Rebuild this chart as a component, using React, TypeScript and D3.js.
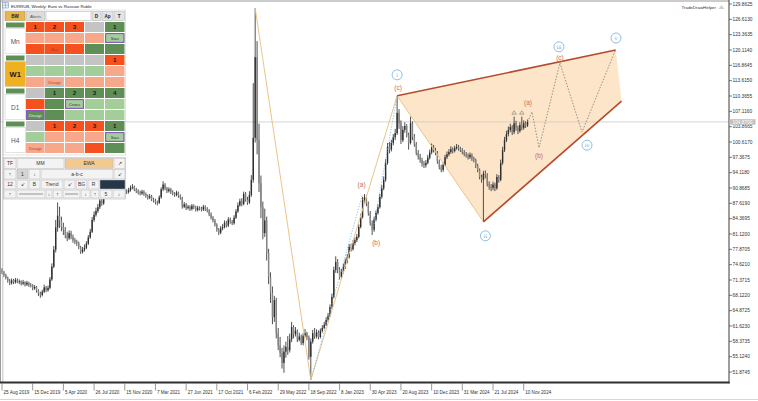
import React from "react";
import * as d3 from "d3";

const W = 758;
const H = 401;

// Weekly EURRUB candles (open of each bar = previous close)
const firstOpen = 73.4;
const closes = [
  73.0, 72.4, 71.8, 71.2, 70.7, 71.3, 70.9, 71.4, 71.0, 71.1,
  70.6, 70.9, 70.4, 70.8, 70.3, 70.2, 69.6, 69.9, 69.1, 68.5,
  68.2, 68.9, 69.8, 69.2, 69.7, 71.5, 74.2, 77.8, 82.5, 85.0,
  84.0, 82.6, 82.0, 80.9, 80.2, 81.3, 80.5, 79.8, 79.5, 79.2,
  78.3, 77.3, 77.8, 78.2, 79.1, 80.4, 81.6, 84.1, 85.2, 86.0,
  86.8, 88.2, 87.6, 88.9, 90.2, 91.4, 90.6, 89.8, 90.5, 91.0,
  91.2, 90.3, 89.9, 90.6, 90.1, 90.0, 90.4, 90.9, 91.1, 90.5,
  90.2, 89.9, 89.7, 90.1, 89.6, 89.2, 88.8, 89.1, 88.5, 88.2,
  87.8, 87.7, 88.9, 90.6, 91.6, 90.8, 90.2, 90.6, 90.0, 89.7,
  89.4, 89.9, 89.2, 88.8, 86.9, 87.4, 86.6, 86.9, 86.4, 87.1,
  86.8, 86.2, 86.7, 86.5, 86.3, 86.9, 86.4, 86.1, 85.3, 84.6,
  84.0, 83.1, 82.0, 81.4, 82.3, 82.6, 83.5, 82.9, 84.2, 83.7,
  83.4, 84.6, 85.9, 87.2, 88.1, 87.5, 89.6, 88.4, 87.8, 89.4,
  92.6, 101.5, 118.6, 101.0, 91.9, 86.8, 81.3, 84.0, 77.1, 72.0,
  68.6, 63.5, 67.1, 60.1, 57.5, 55.9, 53.8, 56.2, 57.2, 56.5,
  58.8, 61.4, 59.9, 60.6, 58.7, 59.4, 58.0, 59.6, 60.1, 59.2,
  55.1, 58.3, 60.1, 59.4, 60.3, 59.3, 60.6, 61.2, 61.9, 62.9,
  63.8, 65.6, 67.8, 73.5, 75.2, 73.6, 72.0, 73.1, 74.1, 75.3,
  76.2, 78.4, 77.9, 79.2, 79.8, 80.5, 82.6, 84.7, 88.3, 88.9,
  87.6, 85.6, 83.4, 82.0, 84.2, 85.6, 86.8, 89.0, 90.8, 92.6,
  96.2, 99.6, 99.0, 100.4, 101.6, 102.5, 106.8, 104.6, 101.0, 103.2,
  104.0, 102.1, 100.4, 104.6, 101.7, 100.2, 98.3, 97.5, 96.8, 96.0,
  95.7, 96.2, 97.3, 98.4, 99.6, 98.9, 98.3, 96.5, 95.3, 94.7,
  95.8, 97.4, 98.0, 98.5, 99.1, 98.7, 99.3, 99.6, 99.2, 98.9,
  98.5, 98.0, 97.8, 97.4, 97.9, 97.1, 96.8, 95.6, 94.7, 93.2,
  92.6, 93.9, 93.6, 91.8, 91.1, 90.9, 91.6, 90.8, 93.2, 92.6,
  96.2, 98.9, 101.0, 102.3, 103.2, 103.8, 102.7, 104.6, 103.6, 102.9,
  104.2, 103.6, 104.6, 104.1, 104.87,
];
const highs = [
  73.9, 73.3, 72.7, 72.1, 71.6, 71.7, 71.6, 71.8, 71.7, 71.5,
  71.3, 71.4, 71.1, 71.2, 71.0, 70.7, 70.5, 70.3, 70.1, 69.4,
  68.9, 69.3, 70.4, 70.1, 70.2, 72.0, 74.9, 78.6, 84.1, 87.8,
  86.9, 84.8, 83.5, 82.6, 81.6, 81.9, 81.8, 81.0, 80.3, 79.9,
  79.5, 78.6, 78.4, 78.9, 79.6, 80.9, 82.2, 84.7, 85.9, 86.7,
  87.5, 88.8, 88.9, 89.5, 90.9, 92.1, 91.8, 91.0, 91.0, 91.5,
  91.7, 91.5, 90.7, 91.1, 90.9, 90.6, 90.9, 91.4, 91.7, 91.4,
  90.9, 90.6, 90.3, 90.5, 90.4, 89.9, 89.5, 89.6, 89.4, 88.8,
  88.6, 88.2, 89.3, 91.0, 92.3, 91.9, 91.1, 91.0, 90.9, 90.4,
  90.0, 90.3, 90.1, 89.5, 89.0, 87.9, 87.7, 87.3, 87.2, 87.5,
  87.4, 87.1, 87.1, 87.0, 86.9, 87.3, 87.2, 86.8, 86.4, 85.7,
  84.9, 84.3, 83.4, 82.4, 82.8, 83.2, 84.0, 83.9, 84.7, 84.6,
  84.1, 85.1, 86.4, 87.8, 88.6, 88.7, 90.1, 90.0, 89.0, 90.2,
  93.6, 113.1, 129.0, 122.0, 104.5, 93.5, 88.0, 86.5, 84.8, 78.0,
  73.0, 70.0, 68.0, 67.6, 61.2, 59.3, 57.0, 57.5, 58.3, 59.5,
  60.0, 62.5, 61.8, 61.4, 60.9, 60.2, 59.8, 60.1, 61.0, 60.4,
  59.6, 59.0, 60.8, 61.2, 60.9, 60.7, 61.1, 61.8, 62.5, 63.5,
  64.4, 66.2, 68.5, 74.2, 76.4, 75.8, 74.1, 73.7, 74.8, 75.9,
  76.9, 79.0, 79.1, 79.8, 80.4, 81.1, 83.2, 85.4, 89.0, 89.6,
  89.3, 88.0, 86.0, 84.0, 84.8, 86.1, 87.4, 89.6, 91.5, 93.3,
  97.0, 100.4, 100.6, 101.1, 102.3, 103.4, 110.4, 107.6, 105.2, 104.0,
  104.8, 104.4, 102.6, 106.0, 105.0, 102.3, 100.6, 98.9, 98.1, 97.3,
  96.6, 96.8, 97.9, 99.0, 100.3, 100.0, 99.4, 98.7, 96.9, 95.8,
  96.3, 97.9, 98.6, 99.1, 99.7, 99.5, 99.8, 100.2, 100.0, 99.6,
  99.3, 98.9, 98.5, 98.2, 98.4, 98.2, 97.5, 97.1, 96.0, 95.0,
  93.7, 94.5, 94.6, 94.0, 92.3, 91.7, 92.2, 92.0, 93.8, 93.6,
  96.9, 99.6, 101.7, 103.0, 103.9, 104.5, 104.2, 106.0, 105.1, 104.1,
  104.8, 106.0, 105.2, 105.0, 105.4,
];
const lows = [
  72.6, 72.0, 71.5, 70.8, 70.3, 70.4, 70.5, 70.6, 70.7, 70.5,
  70.2, 70.3, 70.0, 70.1, 69.9, 69.8, 69.2, 69.3, 68.7, 68.0,
  67.6, 67.9, 68.6, 68.8, 68.9, 69.4, 71.2, 73.9, 77.2, 81.6,
  82.4, 81.7, 80.9, 80.2, 79.6, 79.9, 80.0, 79.3, 79.0, 78.6,
  77.9, 76.9, 77.0, 77.4, 77.9, 78.8, 80.1, 81.3, 83.7, 84.8,
  85.6, 86.4, 87.1, 87.3, 88.6, 89.9, 90.1, 89.3, 89.5, 90.1,
  90.5, 89.9, 89.4, 89.6, 89.7, 89.6, 89.7, 90.1, 90.6, 90.2,
  89.8, 89.5, 89.3, 89.4, 89.2, 88.8, 88.4, 88.5, 88.1, 87.8,
  87.4, 87.2, 87.5, 88.6, 90.2, 90.4, 89.8, 89.9, 89.6, 89.3,
  89.0, 89.1, 88.8, 88.4, 86.5, 86.6, 86.2, 86.3, 86.0, 86.1,
  86.4, 85.9, 85.9, 86.1, 85.9, 86.0, 86.0, 85.7, 84.9, 84.2,
  83.6, 82.7, 81.6, 80.9, 81.1, 81.9, 82.3, 82.5, 82.6, 83.3,
  83.0, 83.1, 84.3, 85.6, 86.9, 87.0, 87.2, 88.0, 87.3, 87.5,
  89.0, 92.0, 100.5, 98.0, 90.0, 84.5, 80.0, 80.5, 75.5, 70.5,
  66.5, 62.0, 62.5, 59.0, 56.5, 55.0, 52.6, 51.7, 54.9, 55.5,
  56.0, 58.2, 59.0, 59.4, 58.2, 58.4, 57.6, 57.5, 59.2, 58.6,
  54.5, 50.2, 57.9, 58.9, 59.0, 58.8, 59.0, 60.2, 60.9, 61.6,
  62.5, 63.5, 65.2, 67.5, 72.9, 72.8, 71.5, 71.6, 72.7, 73.7,
  74.9, 75.9, 77.4, 77.6, 78.7, 79.4, 80.2, 82.3, 84.4, 87.6,
  87.0, 85.0, 82.9, 80.9, 81.6, 83.8, 85.2, 86.5, 88.6, 90.4,
  92.2, 95.8, 98.2, 98.6, 99.9, 101.0, 102.1, 103.4, 100.2, 100.6,
  102.6, 101.6, 99.0, 100.1, 101.0, 99.6, 97.8, 96.9, 96.2, 95.4,
  95.1, 95.2, 95.9, 96.9, 98.0, 98.4, 97.8, 96.0, 94.8, 94.2,
  94.3, 95.5, 97.0, 97.6, 98.1, 98.2, 98.4, 99.0, 98.8, 98.5,
  98.0, 97.6, 97.3, 96.9, 97.0, 96.6, 96.3, 95.1, 94.2, 92.7,
  92.0, 83.7, 92.9, 91.2, 90.5, 90.2, 90.4, 90.2, 90.5, 92.0,
  92.3, 95.8, 98.5, 100.6, 101.8, 102.7, 102.1, 102.3, 103.0, 102.3,
  102.6, 103.1, 103.2, 103.6, 103.8,
];

// Time axis: one label every 16 weekly bars
const weeksPerLabel = 16;
const dateLabels = [
  "25 Aug 2019", "15 Dec 2019", "5 Apr 2020", "26 Jul 2020", "15 Nov 2020",
  "7 Mar 2021", "27 Jun 2021", "17 Oct 2021", "6 Feb 2022", "29 May 2022",
  "18 Sep 2022", "8 Jan 2023", "30 Apr 2023", "20 Aug 2023", "10 Dec 2023",
  "31 Mar 2024", "21 Jul 2024", "10 Nov 2024",
];

// Price axis ticks
const priceTicks = [
  129.8625, 126.613, 123.3635, 120.114, 116.8645, 113.615, 110.3655, 107.116,
  103.8665, 100.617, 97.3675, 94.118, 90.8685, 87.619, 84.3695, 81.12,
  77.8705, 74.621, 71.3715, 68.122, 64.8725, 61.623, 58.3735, 55.124, 51.8745,
];

// Elliott wave markup, points as [bar index, price]
const swingLine: [number, number][] = [[132, 129.0], [161, 50.2], [206, 110.4]];
const subWaveLinks: [number, number][][] = [
  [[161, 50.2], [188, 89.6]],
  [[193, 80.9], [206, 110.4]],
];
const wedge: [number, number][] = [[206, 110.4], [320, 120.1], [323, 109.3], [251, 83.7]];
const projection: [number, number][] = [
  [274, 104.87], [276.3, 107.0], [280, 99.4], [290.9, 117.4], [302.4, 102.7], [319.6, 119.9],
];
const minorLabels = [
  { text: "(a)", at: [188, 89.6], dx: -1, dy: -9 },
  { text: "(b)", at: [193, 80.9], dx: 4, dy: 8 },
  { text: "(c)", at: [206, 110.4], dx: 1, dy: -8 },
  { text: "(a)", at: [276.3, 107.0], dx: -4, dy: -9 },
  { text: "(b)", at: [280, 99.4], dx: 0, dy: 8 },
  { text: "(c)", at: [290.9, 117.4], dx: 0, dy: -5 },
];
const majorLabels = [
  { text: "i", at: [206, 110.4], dx: 0, dy: -21 },
  { text: "ii", at: [251, 83.7], dx: 2, dy: 14 },
  { text: "iii", at: [290.9, 117.4], dx: -1, dy: -16 },
  { text: "iv", at: [302.4, 102.7], dx: 5, dy: 13 },
  { text: "v", at: [319.6, 119.9], dx: 1, dy: -13 },
];
const fractalBars = [267, 271];

// Trend matrix panel: colour code + optional text per cell
type Cell = [string, string?, string?];
const matrixBlocks: { tf: string; rows: Cell[][] }[] = [
  {
    tf: "Mn",
    rows: [
      [["R", "1"], ["R", "2"], ["R", "3"], ["G"], ["D", "1"]],
      [["S"], ["S"], ["S"], ["S"], ["L", "Sau", "p"]],
      [["R"], ["R", "Agr"], ["R"], ["D"], ["D"]],
    ],
  },
  {
    tf: "W1",
    rows: [
      [["G"], ["G"], ["G"], ["G"], ["R", "1"]],
      [["L"], ["L"], ["L"], ["L"], ["S"]],
      [["S"], ["S", "Disagr", "b"], ["S"], ["S"], ["S"]],
    ],
  },
  {
    tf: "D1",
    rows: [
      [["G"], ["D", "1"], ["D", "2"], ["D", "3"], ["D", "4"]],
      [["R"], ["D"], ["L", "Cross", "p"], ["L"], ["L"]],
      [["D", "Disagr", "p"], ["D"], ["L"], ["L"], ["L"]],
    ],
  },
  {
    tf: "H4",
    rows: [
      [["G"], ["R", "1"], ["R", "2"], ["R", "3"], ["D", "1"]],
      [["L"], ["S"], ["S"], ["S"], ["L", "Sau", "p"]],
      [["S", "Disagr"], ["S"], ["S"], ["R"], ["D"]],
    ],
  },
];

// Tool panel rows: [x0, x1, label, style]
const toolRows: [number, number, string, string?][][] = [
  [[4, 16, "TF"], [17, 64, "MM"], [65, 113, "EWA", "tan"], [114, 125, "↗"]],
  [[4, 16, "↑"], [17, 28, "1", "gray"], [29, 40, "↓"], [41, 113, "a-b-c"], [114, 125, "↙"]],
  [[4, 16, "12"], [17, 28, "↙"], [29, 40, "B"], [41, 63, "Trend"], [64, 75, "↙"], [76, 87, "BG"], [88, 99, "R"], [100, 125, "", "dark"]],
  [[4, 16, "↑"], [17, 45, "", "line"], [46, 52, "↓"], [53, 62, "↑"], [63, 80, "", "line"], [81, 90, "↓"], [91, 99, "↑"], [100, 112, "5"], [113, 125, "↓"]],
];
const toolRowY = [158, 169, 179.5, 189.5, 198.5];

const fills: Record<string, string> = {
  R: "#f4511e",
  S: "#f8a88a",
  G: "#c4c4c4",
  D: "#5f8f57",
  L: "#a3cd99",
};

const FONT = "'Liberation Sans', Arial, sans-serif";

export default function App() {
  const plotRight = 729;
  const plotBottom = 382.5;
  const x = d3.scaleLinear().domain([0, 272]).range([2, 523.7]);
  const y = d3.scaleLinear().domain([51.8745, 129.8625]).range([372, 4]);
  const pt = (p: [number, number]) => [x(p[0]), y(p[1])] as [number, number];
  const line = d3.line<[number, number]>().x((d) => x(d[0])).y((d) => y(d[1]));
  const lastPrice = closes[closes.length - 1];

  const candles = closes.map((c, i) => {
    const o = i === 0 ? firstOpen : closes[i - 1];
    const cx = x(i);
    const top = y(Math.max(o, c));
    const bot = y(Math.min(o, c));
    const up = c >= o;
    return (
      <g key={i}>
        <line x1={cx} x2={cx} y1={y(highs[i])} y2={y(lows[i])} stroke="#3d3d3d" strokeWidth={0.9} />
        <rect x={cx - 0.7} y={top} width={1.4} height={Math.max(0.8, bot - top)} fill={up ? "#2e2e2e" : "#858585"} />
      </g>
    );
  });

  // matrix panel geometry
  const colX = [26, 45, 65, 85, 105];
  const colW = [18.5, 19, 19, 19, 19.5];
  const blockY0 = 22;
  const blockPitch = 33;
  const rowH = 10;

  return (
    <svg
      width={W}
      height={H}
      style={{ position: "absolute", left: 0, top: 0, background: "#fff" }}
      fontFamily={FONT}
    >
      <rect x={0} y={0} width={W} height={H} fill="#fff" />

      {/* wedge fill sits behind the candles */}
      <path d={line(wedge) + "Z"} fill="#fde4c6" fillOpacity={0.95} />

      {/* last price line */}
      <line x1={0} x2={plotRight} y1={y(lastPrice)} y2={y(lastPrice)} stroke="#c9c9c9" strokeWidth={0.8} />

      {candles}

      {/* swing lines */}
      <path d={line(swingLine)!} fill="none" stroke="#ebc48a" strokeWidth={1} />
      <path d={line([wedge[0], wedge[3]])!} fill="none" stroke="#ebc48a" strokeWidth={1} />
      {subWaveLinks.map((seg, k) => (
        <path key={k} d={line(seg)!} fill="none" stroke="#6fb2d8" strokeWidth={0.8} strokeDasharray="1.2,1.6" />
      ))}
      <path d={line([wedge[0], wedge[1]])!} fill="none" stroke="#b64a2b" strokeWidth={1.6} />
      <path d={line([wedge[3], wedge[2]])!} fill="none" stroke="#b64a2b" strokeWidth={1.6} />
      <path d={line(projection)!} fill="none" stroke="#7a7a7a" strokeWidth={0.8} strokeDasharray="1.5,1.5" />

      {fractalBars.map((b) => {
        const cx = x(b);
        const cy = y(highs[b]) - 4;
        return (
          <path key={b} d={`M${cx - 2.2},${cy + 1.6}L${cx},${cy - 1.8}L${cx + 2.2},${cy + 1.6}Z`} fill="none" stroke="#777" strokeWidth={0.6} />
        );
      })}

      {minorLabels.map((l, k) => {
        const [px, py] = pt(l.at as [number, number]);
        return (
          <text key={k} x={px + l.dx} y={py + l.dy + 2.2} textAnchor="middle" fontSize={6.5} fill="#c9685a">
            {l.text}
          </text>
        );
      })}
      {majorLabels.map((l, k) => {
        const [px, py] = pt(l.at as [number, number]);
        const cx = px + l.dx;
        const cy = py + l.dy;
        return (
          <g key={k}>
            <circle cx={cx} cy={cy} r={5} fill="#fff" fillOpacity={0.6} stroke="#6fb2d8" strokeWidth={0.8} />
            <text x={cx} y={cy + 1.8} textAnchor="middle" fontSize={5} fill="#5aa2cf" fontFamily="'DejaVu Serif', serif">
              {l.text}
            </text>
          </g>
        );
      })}

      {/* frame */}
      <line x1={0} x2={plotRight} y1={1} y2={1} stroke="#9a9a9a" strokeWidth={1.2} />
      <line x1={0.5} x2={0.5} y1={0} y2={plotBottom} stroke="#9a9a9a" strokeWidth={1} />
      <line x1={2.8} x2={2.8} y1={0} y2={plotBottom} stroke="#a8a8a8" strokeWidth={0.7} />
      <line x1={plotRight} x2={plotRight} y1={0} y2={plotBottom + 1} stroke="#3a3a3a" strokeWidth={1} />
      <line x1={0} x2={plotRight + 0.5} y1={plotBottom} y2={plotBottom} stroke="#2f2f2f" strokeWidth={2} />
      <line x1={0} x2={W} y1={399.5} y2={399.5} stroke="#d6d6d6" strokeWidth={1} />

      {/* price axis */}
      {priceTicks.map((p) => (
        <g key={p}>
          <line x1={plotRight} x2={plotRight + 3} y1={y(p)} y2={y(p)} stroke="#444" strokeWidth={0.7} />
          <text x={plotRight + 3.5} y={y(p) + 1.7} fontSize={4.8} fill="#333">
            {p.toFixed(4)}
          </text>
        </g>
      ))}
      <rect x={plotRight + 0.5} y={y(lastPrice) - 2.8} width={26} height={5.6} fill="#c2c2c2" />
      <text x={plotRight + 3.5} y={y(lastPrice) + 1.7} fontSize={4.8} fill="#fff">
        {lastPrice.toFixed(4)}
      </text>

      {/* time axis */}
      {dateLabels.map((d, k) => {
        const tx = x(k * weeksPerLabel);
        return (
          <g key={d}>
            <line x1={tx} x2={tx} y1={plotBottom + 1} y2={plotBottom + 8} stroke="#555" strokeWidth={0.6} />
            <text x={tx + 1.5} y={plotBottom + 11} fontSize={4.6} fill="#333">
              {d}
            </text>
          </g>
        );
      })}

      {/* chart title */}
      <rect x={2.5} y={2.5} width={6} height={5.5} fill="#e8eef6" stroke="#6a88b0" strokeWidth={0.5} />
      <line x1={2.5} x2={8.5} y1={5.2} y2={5.2} stroke="#6a88b0" strokeWidth={0.4} />
      <line x1={5.5} x2={5.5} y1={2.5} y2={8} stroke="#6a88b0" strokeWidth={0.4} />
      <text x={11} y={7.6} fontSize={4.3} fill="#222">
        EURRUB, Weekly:  Euro vs Russian Ruble
      </text>
      <text x={716} y={8.5} fontSize={4.4} fill="#333" textAnchor="end">
        TradeDrawHelper
      </text>
      <path d="M718.5,9 L721.5,5 L724.5,9 Z" fill="#cfcfcf" />

      {/* trend matrix panel */}
      <rect x={3.5} y={10} width={122} height={145} fill="#fff" stroke="#cfcfcf" strokeWidth={0.6} />
      <rect x={5} y={11.5} width={20} height={9} fill="#ebb54e" stroke="#9a8a60" strokeWidth={0.5} />
      <text x={15} y={17.8} fontSize={4.6} fontWeight="bold" textAnchor="middle" fill="#222">BW</text>
      <rect x={26} y={11.5} width={19} height={9} fill="#dcdcdc" stroke="#b0b0b0" strokeWidth={0.5} />
      <text x={35.5} y={17.8} fontSize={4.4} textAnchor="middle" fill="#555">Alerts</text>
      <rect x={46} y={11.5} width={45} height={9} fill="#fff" stroke="#b0b0b0" strokeWidth={0.5} />
      {[[92, 101, "D"], [102, 113, "Ap"], [114, 124.5, "T"]].map(([a, b, t]) => (
        <g key={t as string}>
          <rect x={a as number} y={11.5} width={(b as number) - (a as number)} height={9} fill="#e4e4e4" stroke="#b0b0b0" strokeWidth={0.5} />
          <text x={((a as number) + (b as number)) / 2} y={17.8} fontSize={4.6} fontWeight="bold" textAnchor="middle" fill="#222">{t}</text>
        </g>
      ))}
      {matrixBlocks.map((blk, bi) => {
        const by = blockY0 + bi * blockPitch;
        const isW1 = blk.tf === "W1";
        return (
          <g key={blk.tf}>
            <rect x={6} y={by + 0.5} width={18.5} height={5} fill="#5f8f57" />
            <rect x={5} y={by + 6.5} width={20.5} height={25} fill={isW1 ? "#efb022" : "#fff"} stroke="#c8c8c8" strokeWidth={0.5} />
            <text x={15.2} y={by + 21.5} fontSize={isW1 ? 7.5 : 6.5} fontWeight={isW1 ? "bold" : "normal"} textAnchor="middle" fill={isW1 ? "#1a1a1a" : "#555"}>
              {blk.tf}
            </text>
            {blk.rows.map((row, ri) =>
              row.map((cell, ci) => {
                const cx0 = colX[ci];
                const cy0 = by + ri * (rowH + 1);
                const [code, label, border] = cell;
                const isNum = label !== undefined && /^\d$/.test(label);
                const txtColor = isNum
                  ? "#1a1a1a"
                  : code === "R" || code === "S"
                  ? "#b0402e"
                  : code === "D"
                  ? "#e8e8e8"
                  : "#333";
                return (
                  <g key={`${ri}-${ci}`}>
                    <rect x={cx0} y={cy0} width={colW[ci]} height={rowH} fill={fills[code]} />
                    {border && (
                      <rect
                        x={cx0 + 0.6}
                        y={cy0 + 0.6}
                        width={colW[ci] - 1.2}
                        height={rowH - 1.2}
                        fill="none"
                        stroke={border === "p" ? "#8a55c4" : "#9fcbe8"}
                        strokeWidth={1.1}
                      />
                    )}
                    {label && (
                      <text
                        x={cx0 + colW[ci] / 2}
                        y={cy0 + rowH / 2 + (isNum ? 2.2 : 1.6)}
                        textAnchor="middle"
                        fontSize={isNum ? 6.2 : 4.4}
                        fontWeight={isNum ? "bold" : "normal"}
                        fill={txtColor}
                      >
                        {label}
                      </text>
                    )}
                  </g>
                );
              })
            )}
          </g>
        );
      })}

      {/* tool panel */}
      <rect x={3.5} y={157.5} width={122} height={41.5} fill="#fff" stroke="#bdbdbd" strokeWidth={0.6} />
      {toolRows.map((row, ri) =>
        row.map(([a, b, t, kind], ci) => {
          const y0 = toolRowY[ri] + 0.5;
          const h = toolRowY[ri + 1] - toolRowY[ri] - 1;
          const fill =
            kind === "tan" ? "#f2c98f" : kind === "gray" ? "#d4d4d4" : kind === "dark" ? "#26374a" : "#f3f3f3";
          return (
            <g key={`${ri}-${ci}`}>
              <rect x={a} y={y0} width={b - a} height={h} fill={fill} stroke="#b5b5b5" strokeWidth={0.5} />
              {kind === "line" && (
                <line x1={a + 2} x2={b - 2} y1={y0 + h / 2} y2={y0 + h / 2} stroke="#555" strokeWidth={0.6} />
              )}
              {t && (
                <text x={(a + b) / 2} y={y0 + h / 2 + 1.8} fontSize={5} textAnchor="middle" fill="#333">
                  {t}
                </text>
              )}
            </g>
          );
        })
      )}
    </svg>
  );
}
